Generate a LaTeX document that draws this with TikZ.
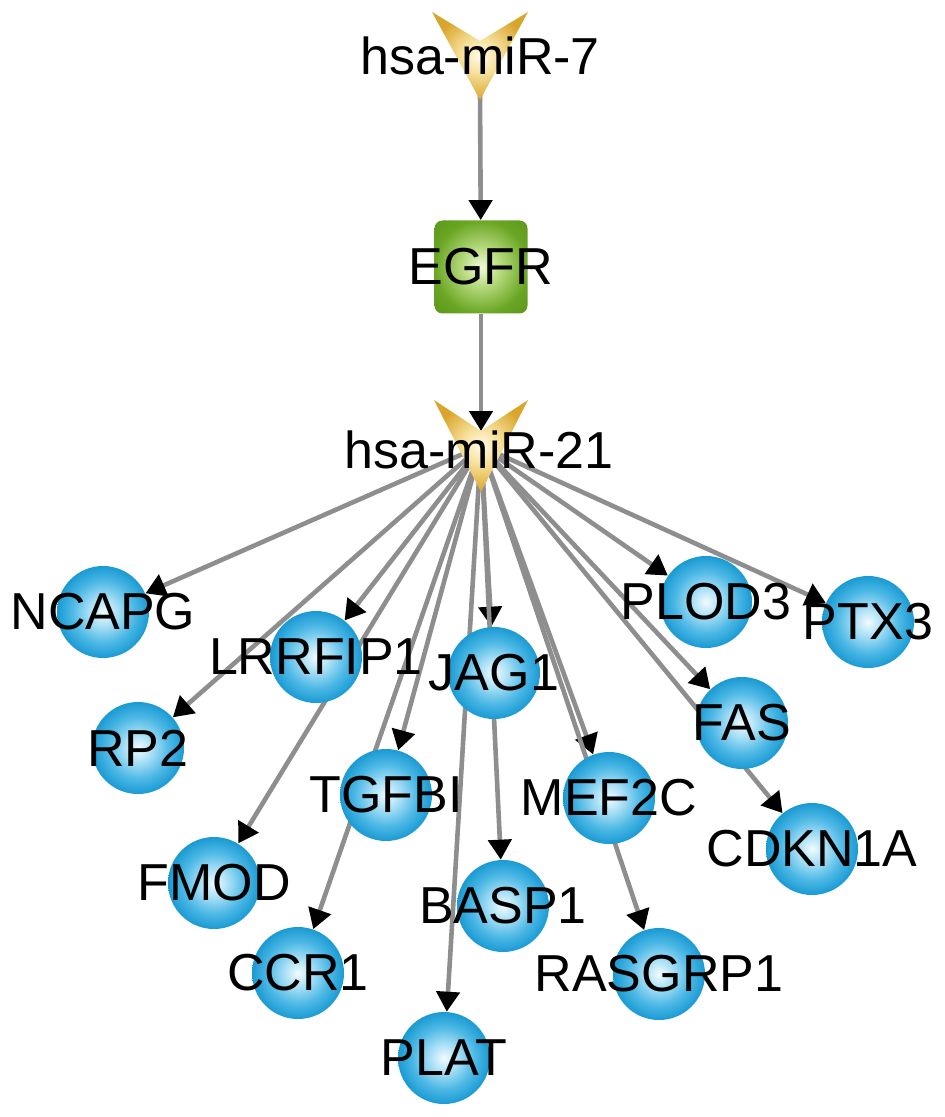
\documentclass[tikz,border=0pt]{standalone}
\usepackage{fontspec}
\setmainfont{Liberation Sans}
\usetikzlibrary{arrows.meta}
\definecolor{edgegray}{HTML}{8E8E8E}
\definecolor{bin}{HTML}{F2FBFF}
\definecolor{bmid}{HTML}{A6DEF5}
\definecolor{bmid2}{HTML}{4CB8E5}
\definecolor{bout}{HTML}{1A9AD3}
\definecolor{gin}{HTML}{F0F9DC}
\definecolor{gmid}{HTML}{B8DB80}
\definecolor{gout}{HTML}{6AA624}
\definecolor{gcorner}{HTML}{5B9618}
\definecolor{yin}{HTML}{FFFBE8}
\definecolor{ymid}{HTML}{F6E09A}
\definecolor{yout}{HTML}{D9A52A}
\pgfdeclareradialshading{genesh}{\pgfpoint{0bp}{0bp}}{color(0bp)=(bin); color(8bp)=(bmid); color(17bp)=(bmid2); color(25bp)=(bout); color(50bp)=(bout)}
\pgfdeclareradialshading{egfrsh}{\pgfpoint{0bp}{0bp}}{color(0bp)=(gin); color(10bp)=(gmid); color(25bp)=(gout); color(36bp)=(gcorner); color(50bp)=(gcorner)}
\pgfdeclareradialshading{vsh}{\pgfpoint{0bp}{0bp}}{color(0bp)=(yin); color(10bp)=(ymid); color(25bp)=(yout); color(50bp)=(yout)}
\pgfdeclarelayer{background}
\pgfsetlayers{background,main}
\tikzset{
  gene/.style={circle, minimum size=46pt, inner sep=0pt, shade, shading=genesh},
  egfrbox/.style={rectangle, rounded corners=4pt, minimum size=46.5pt, inner sep=0pt, shade, shading=egfrsh},
  lbl/.style={font=\fontsize{26}{30}\selectfont, inner sep=0pt, text=black},
  edge/.style={draw=edgegray, line width=2.3pt, -{Triangle[length=10pt,width=11.5pt,color=black]}},
  veeshape/.style={shade, shading=vsh}
}
\begin{document}
\begin{tikzpicture}[x=0.5pt,y=-0.5pt]
\useasboundingbox (0,0) rectangle (945,1117);

% miRNA vee shapes
\shade[veeshape] (432,12) -- (480,41) -- (528,12) -- (480,100) -- cycle;
\shade[veeshape] (434,400) -- (481,431) -- (528,400) -- (481,492) -- cycle;
\coordinate (m7tip) at (480,92);
\coordinate (m21notch) at (481,431);
\coordinate (m21c) at (481,446);

% EGFR
\node[egfrbox] (egfr) at (481,267) {};

% gene circles
\node[gene] (ncapg) at (103,612) {};
\node[gene] (rp2) at (138,748) {};
\node[gene] (lrrfip1) at (316,657) {};
\node[gene] (jag1) at (494,673) {};
\node[gene] (plod3) at (706,602) {};
\node[gene] (ptx3) at (868,622) {};
\node[gene] (fas) at (742,723) {};
\node[gene] (tgfbi) at (386,795) {};
\node[gene] (mef2c) at (609,798) {};
\node[gene] (cdkn1a) at (812,849) {};
\node[gene] (fmod) at (214,883) {};
\node[gene] (basp1) at (503,906) {};
\node[gene] (ccr1) at (298,973) {};
\node[gene] (plat) at (444,1058) {};
\node[gene] (rasgrp1) at (659,974) {};

% labels
\node[lbl] (mir7-l) at (480,56) {hsa-miR-7};
\node[lbl] (mir21-l) at (479,450) {hsa-miR-21};
\node[lbl] (egfr-l) at (egfr) {EGFR};
\node[lbl] (ncapg-l) at (ncapg) {NCAPG};
\node[lbl] (rp2-l) at (rp2) {RP2};
\node[lbl] (lrrfip1-l) at (lrrfip1) {LRRFIP1};
\node[lbl] (jag1-l) at (jag1) {JAG1};
\node[lbl] (plod3-l) at (plod3) {PLOD3};
\node[lbl] (ptx3-l) at (ptx3) {PTX3};
\node[lbl] (fas-l) at (fas) {FAS};
\node[lbl] (tgfbi-l) at (tgfbi) {TGFBI};
\node[lbl] (mef2c-l) at (mef2c) {MEF2C};
\node[lbl] (cdkn1a-l) at (cdkn1a) {CDKN1A};
\node[lbl] (fmod-l) at (fmod) {FMOD};
\node[lbl] (basp1-l) at (basp1) {BASP1};
\node[lbl] (ccr1-l) at (ccr1) {CCR1};
\node[lbl] (plat-l) at (plat) {PLAT};
\node[lbl] (rasgrp1-l) at (rasgrp1) {RASGRP1};

% connectors
\begin{pgfonlayer}{background}
\draw[edge] (m7tip) -- (egfr);
\draw[edge] (egfr) -- (m21notch);
\foreach \t in {ncapg,rp2,lrrfip1,fmod,tgfbi,ccr1,plat,jag1,basp1,mef2c,rasgrp1,plod3,fas,cdkn1a,ptx3}
  \draw[edge] (m21c) -- (\t);
\end{pgfonlayer}
\end{tikzpicture}
\end{document}
